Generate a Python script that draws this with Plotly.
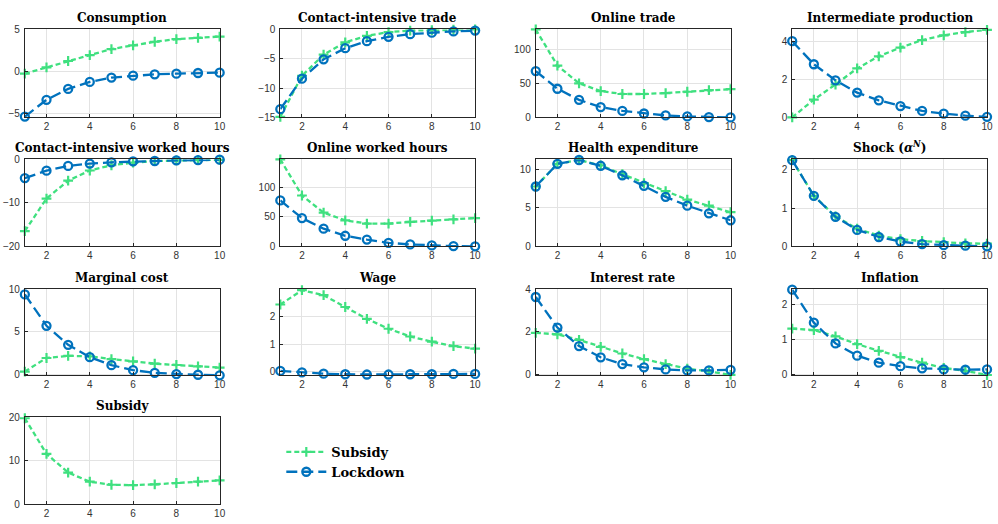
import plotly.graph_objects as go

periods = [1, 2, 3, 4, 5, 6, 7, 8, 9, 10]

titles = ["Consumption", "Contact-intensive trade", "Online trade", "Intermediate production",
          "Contact-intensive worked hours", "Online worked hours", "Health expenditure",
          "Shock (<i>α</i><sup><i>N</i></sup>)",
          "Marginal cost", "Wage", "Interest rate", "Inflation", "Subsidy"]

subsidy_consumption = [-0.28, 0.48, 1.23, 1.94, 2.66, 3.1, 3.53, 3.85, 4.0, 4.15]
lockdown_consumption = [-5.4, -3.4, -2.1, -1.27, -0.75, -0.52, -0.36, -0.28, -0.2, -0.16]

subsidy_ci_trade = [-14.9, -7.9, -4.3, -2.2, -1.1, -0.45, -0.2, -0.1, -0.05, 0.0]
lockdown_ci_trade = [-13.6, -8.4, -5.1, -3.2, -2.0, -1.26, -0.8, -0.55, -0.33, -0.2]

subsidy_online_trade = [129, 76, 50, 38.6, 34.3, 34.3, 35.7, 37.6, 40, 41.4]
lockdown_online_trade = [68, 42, 25.7, 15.2, 9.5, 5.7, 2.9, 1.4, 0.5, 0.0]

subsidy_intermediate = [0.0, 0.94, 1.74, 2.59, 3.23, 3.69, 4.09, 4.34, 4.51, 4.63]
lockdown_intermediate = [4.03, 2.81, 1.96, 1.31, 0.9, 0.6, 0.34, 0.2, 0.09, 0.03]

subsidy_ci_hours = [-16.5, -9.0, -4.9, -2.55, -1.35, -0.75, -0.37, -0.22, -0.15, -0.1]
lockdown_ci_hours = [-4.3, -2.6, -1.5, -0.97, -0.67, -0.45, -0.37, -0.22, -0.15, -0.07]

subsidy_online_hours = [147, 86, 57, 44, 38.6, 38.6, 41.3, 43.5, 45.7, 47.8]
lockdown_online_hours = [77.7, 47.8, 29.9, 17.9, 11.4, 6.0, 3.3, 1.6, 0.5, 0.0]

subsidy_health = [7.8, 10.75, 11.25, 10.55, 9.4, 8.25, 7.2, 6.1, 5.3, 4.45]
lockdown_health = [7.8, 10.75, 11.25, 10.5, 9.25, 7.9, 6.45, 5.3, 4.3, 3.4]

subsidy_shock = [2.25, 1.32, 0.78, 0.46, 0.28, 0.19, 0.14, 0.11, 0.08, 0.07]
lockdown_shock = [2.25, 1.32, 0.77, 0.43, 0.245, 0.127, 0.06, 0.03, 0.017, 0.0]

subsidy_marginal_cost = [0.3, 1.9, 2.15, 2.1, 1.77, 1.5, 1.23, 1.07, 0.92, 0.77]
lockdown_marginal_cost = [9.4, 5.7, 3.45, 2.0, 1.05, 0.46, 0.15, 0.0, -0.08, -0.15]

subsidy_wage = [2.44, 2.96, 2.78, 2.35, 1.92, 1.56, 1.28, 1.09, 0.93, 0.84]
lockdown_wage = [0.03, -0.02, -0.07, -0.09, -0.1, -0.1, -0.09, -0.09, -0.08, -0.08]

subsidy_interest = [1.95, 1.88, 1.62, 1.29, 0.98, 0.71, 0.48, 0.26, 0.14, -0.03]
lockdown_interest = [3.64, 2.2, 1.33, 0.8, 0.48, 0.33, 0.23, 0.18, 0.18, 0.21]

subsidy_inflation = [1.3, 1.26, 1.08, 0.86, 0.67, 0.49, 0.33, 0.18, 0.1, -0.02]
lockdown_inflation = [2.41, 1.47, 0.88, 0.53, 0.33, 0.23, 0.17, 0.14, 0.13, 0.14]

subsidy_subsidy = [19.8, 11.6, 7.3, 5.2, 4.5, 4.4, 4.6, 4.9, 5.2, 5.5]

subsidy_series = [subsidy_consumption, subsidy_ci_trade, subsidy_online_trade, subsidy_intermediate,
                  subsidy_ci_hours, subsidy_online_hours, subsidy_health, subsidy_shock,
                  subsidy_marginal_cost, subsidy_wage, subsidy_interest, subsidy_inflation,
                  subsidy_subsidy]
lockdown_series = [lockdown_consumption, lockdown_ci_trade, lockdown_online_trade, lockdown_intermediate,
                   lockdown_ci_hours, lockdown_online_hours, lockdown_health, lockdown_shock,
                   lockdown_marginal_cost, lockdown_wage, lockdown_interest, lockdown_inflation,
                   None]

y_ranges = [[-5.5, 5], [-15, 0], [0, 129], [0, 4.65],
            [-20, 0], [0, 147], [0, 11.33], [0, 2.27],
            [-0.15, 10], [-0.13, 2.99], [-0.05, 4], [-0.03, 2.42],
            [0, 20]]
y_ticks = [[-5, 0, 5], [-15, -10, -5, 0], [0, 50, 100], [0, 2, 4],
           [-20, -10, 0], [0, 50, 100], [0, 5, 10], [0, 1, 2],
           [0, 5, 10], [0, 1, 2], [0, 2, 4], [0, 1, 2],
           [0, 10, 20]]
x_ticks = [2, 4, 6, 8, 10]

W, H = 998, 524
col_px = [(25, 221), (282, 478), (539, 735), (797, 993)]
row_px = [(24, 114), (157, 246), (290, 378), (421, 510)]

GREEN = "#3fe07f"
BLUE = "#0072bd"
AXC = "#262626"
GRID = "#e3e3e3"
SERIF = "DejaVu Serif"

fig = go.Figure()
layout = {}
annotations = []

for i, title in enumerate(titles):
    r, c = divmod(i, 4)
    n = i + 1
    xa = "x" if n == 1 else f"x{n}"
    ya = "y" if n == 1 else f"y{n}"
    xk = "xaxis" if n == 1 else f"xaxis{n}"
    yk = "yaxis" if n == 1 else f"yaxis{n}"
    x0, x1 = col_px[c]
    t0, t1 = row_px[r]
    common = dict(showline=True, mirror=True, linecolor=AXC, linewidth=1,
                  ticks="inside", ticklen=3, tickcolor=AXC,
                  showgrid=True, gridcolor=GRID, gridwidth=1, zeroline=False,
                  tickfont=dict(family="Liberation Sans", size=10, color="#333333"))
    layout[xk] = dict(domain=[x0 / W, x1 / W], range=[1, 10], tickvals=x_ticks,
                      anchor=ya, **common)
    layout[yk] = dict(domain=[1 - t1 / H, 1 - t0 / H], range=y_ranges[i], tickvals=y_ticks[i],
                      anchor=xa, ticklabelstandoff=2, **common)
    annotations.append(dict(text=f"<b>{title}</b>", x=(x0 + x1) / 2 / W, y=1 - t0 / H,
                            xref="paper", yref="paper", xanchor="center", yanchor="bottom",
                            yshift=2, showarrow=False,
                            font=dict(family=SERIF, size=12, color="#000000")))

    fig.add_trace(go.Scatter(
        x=periods, y=subsidy_series[i], xaxis=xa, yaxis=ya, mode="lines+markers",
        name="<b>Subsidy</b>", legendgroup="s", showlegend=(i == 0), cliponaxis=False,
        line=dict(color=GREEN, width=2.3, dash="5px,3px"),
        marker=dict(symbol="cross-thin", size=7, color=GREEN, line=dict(color=GREEN, width=2.2))))
    if lockdown_series[i] is not None:
        fig.add_trace(go.Scatter(
            x=periods, y=lockdown_series[i], xaxis=xa, yaxis=ya, mode="lines+markers",
            name="<b>Lockdown</b>", legendgroup="l", showlegend=(i == 0), cliponaxis=False,
            line=dict(color=BLUE, width=2.3, dash="11px,5px"),
            marker=dict(symbol="circle-open", size=8, color=BLUE, line=dict(color=BLUE, width=2.3))))

fig.update_layout(**layout)
fig.update_layout(
    width=W, height=H, margin=dict(l=0, r=0, t=0, b=0),
    paper_bgcolor="white", plot_bgcolor="white",
    annotations=annotations,
    legend=dict(x=283 / W, y=1 - 441 / H, xanchor="left", yanchor="top",
                bgcolor="rgba(0,0,0,0)", borderwidth=0, tracegroupgap=0,
                itemwidth=40,
                font=dict(family=SERIF, size=13, color="#000000")),
    showlegend=True,
)

fig.write_html("out.html")
